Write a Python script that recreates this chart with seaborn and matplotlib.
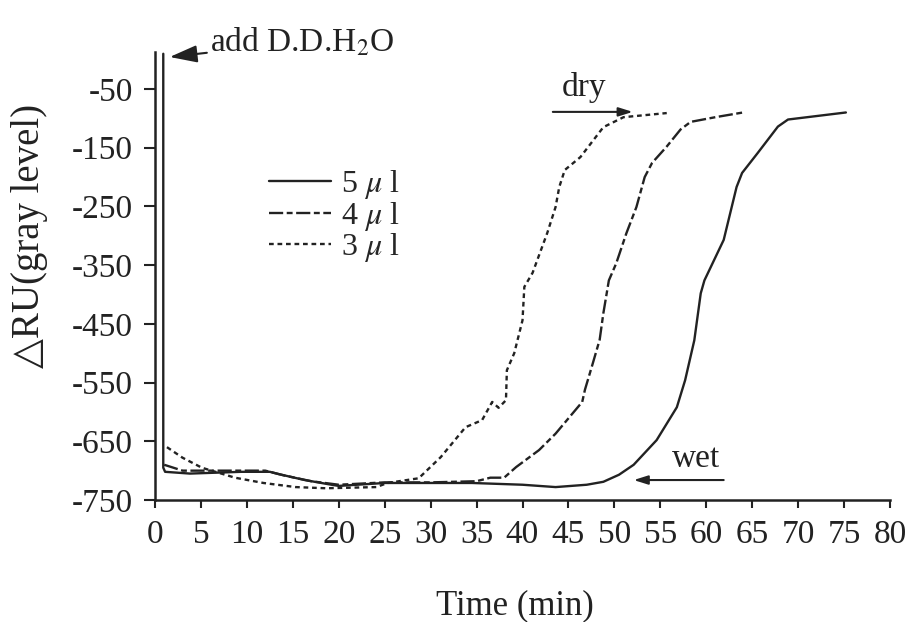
import numpy as np
import pandas as pd
import matplotlib
matplotlib.use("Agg")
import matplotlib.pyplot as plt
import seaborn as sns

sns.set_theme(style="ticks")
plt.rcParams["font.family"] = ["Liberation Serif", "DejaVu Serif"]
plt.rcParams["mathtext.fontset"] = "stix"
plt.rcParams["axes.unicode_minus"] = False

# 5 ul curve (solid)
t_5ul = [0.9, 0.9, 1.1, 3.8, 9.4, 12.5, 13.5, 16.3, 19.2, 20.0, 25.0, 34.5, 40.0,
         43.6, 47.0, 48.8, 50.5, 52.1, 54.6, 56.8, 57.7, 58.7, 59.4, 59.8, 61.9,
         63.3, 63.9, 65.6, 67.8, 68.9, 75.2]
ru_5ul = [10, -695, -702, -705, -702, -702, -706, -716, -724, -726, -721, -721, -724,
          -728, -724, -719, -707, -690, -648, -592, -546, -478, -398, -376, -307,
          -217, -193, -159, -114, -102, -90]

# 4 ul curve (dash)
t_4ul = [1.0, 3.0, 8.0, 12.0, 14.0, 17.0, 20.0, 25.0, 30.0, 35.0, 36.5, 38.0, 39.3,
         41.8, 43.6, 46.5, 46.8, 47.6, 48.4, 48.8, 49.4, 50.2, 51.3, 52.4, 53.3,
         54.1, 55.7, 57.2, 58.3, 61.0, 64.0]
ru_4ul = [-690, -700, -700, -700, -708, -718, -724, -720, -720, -718, -712, -712, -694,
          -665, -637, -583, -562, -520, -477, -432, -376, -347, -296, -251, -200,
          -176, -148, -119, -106, -98, -90]

# 3 ul curve (dotted)
t_3ul = [1.3, 3.0, 5.1, 8.7, 11.8, 15.3, 18.6, 24.1, 25.3, 28.7, 31.1, 33.8, 35.6,
         36.7, 37.4, 38.2, 38.3, 39.1, 40.0, 40.2, 41.1, 42.7, 43.6, 44.0, 44.6,
         46.3, 48.8, 51.0, 55.7]
ru_3ul = [-660, -678, -695, -712, -721, -728, -730, -728, -721, -713, -677, -626, -614,
          -583, -593, -580, -529, -500, -444, -387, -363, -295, -251, -217, -188,
          -166, -115, -98, -91]

labels = ["5 $\\mu$ l", "4 $\\mu$ l", "3 $\\mu$ l"]
x_ticks = list(range(0, 81, 5))
y_ticks = list(range(-50, -751, -100))

df = pd.concat([
    pd.DataFrame({"Time": t_5ul, "RU": ru_5ul, "vol": labels[0]}),
    pd.DataFrame({"Time": t_4ul, "RU": ru_4ul, "vol": labels[1]}),
    pd.DataFrame({"Time": t_3ul, "RU": ru_3ul, "vol": labels[2]}),
], ignore_index=True)

ink = "#222222"
fig = plt.figure(figsize=(9.14, 6.22), dpi=100)
ax = fig.add_axes([155 / 914, 122 / 622, 735 / 914, 448 / 622])

sns.lineplot(data=df, x="Time", y="RU", hue="vol", style="vol",
             palette={l: ink for l in labels},
             dashes={labels[0]: "", labels[1]: (6, 1.5, 2.5, 1.5), labels[2]: (2, 1.6)},
             sort=False, estimator=None, lw=1.7, ax=ax)

ax.set_xlim(0, 80)
ax.set_ylim(-750, 13)
ax.set_xticks(x_ticks)
ax.set_yticks(y_ticks)
ax.tick_params(axis="both", direction="out", labelsize=24, colors=ink, width=1.5)
ax.tick_params(axis="x", length=6, pad=8)
ax.tick_params(axis="y", length=8, pad=8)
for s in ["top", "right"]:
    ax.spines[s].set_visible(False)
for s in ["left", "bottom"]:
    ax.spines[s].set_linewidth(1.8)
    ax.spines[s].set_color(ink)

ax.set_xlabel("Time (min)", fontsize=25, color=ink)
ax.xaxis.set_label_coords(0.49, -0.2)
ax.set_ylabel("△RU(gray level)", fontsize=28, color=ink)
ax.yaxis.set_label_coords(-0.145, 0.59)

sns.move_legend(ax, loc="upper left", bbox_to_anchor=(253 / 914, 1 - 152 / 622),
                bbox_transform=fig.transFigure, frameon=False, title=None,
                fontsize=23, handlelength=1.95, handletextpad=0.3,
                labelspacing=-0.04, borderpad=0)

arrow = dict(arrowstyle="-|>,head_length=0.7,head_width=0.22", color=ink, lw=1.5,
             shrinkA=0, shrinkB=0)
ax.annotate("add D.D.H$_2$O", xy=(1.6, 4.5), xytext=(6.0, 30), fontsize=24, color=ink,
            ha="left", va="center", arrowprops=arrow, annotation_clip=False)
ax.annotate("", xy=(52.0, -89), xytext=(43.3, -89), arrowprops=arrow)
ax.text(46.7, -62, "dry", fontsize=24, color=ink, ha="center", va="baseline")
ax.annotate("", xy=(52.1, -716), xytext=(61.9, -716), arrowprops=arrow)
ax.text(58.9, -694, "wet", fontsize=24, color=ink, ha="center", va="baseline")

fig.savefig("out.png", dpi=100, facecolor="white")
